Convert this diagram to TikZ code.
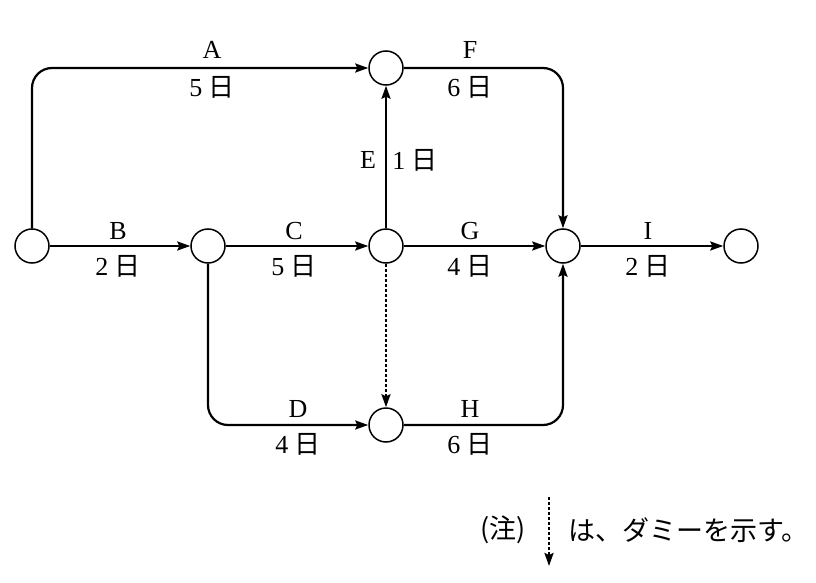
\documentclass[tikz,border=0pt]{standalone}
\usepackage{fontspec}
\setmainfont{Liberation Serif}
\newfontfamily\jp{Noto Sans CJK JP}
\usetikzlibrary{arrows.meta}
\begin{document}
\begin{tikzpicture}[x=1pt,y=-1pt,
  ev/.style={circle,draw,line width=1.5pt,minimum size=34pt,inner sep=0pt},
  act/.style={line width=2.2pt,-{Stealth[length=13pt,width=9pt,inset=2pt]},rounded corners=20pt},
  dummy/.style={act,dash pattern=on 3pt off 2pt},
  lbl/.style={font=\fontsize{26}{28}\selectfont,inner sep=0pt},
  jpl/.style={font=\fontsize{27}{29}\selectfont\jp,inner sep=0pt}]
\useasboundingbox (0,0) rectangle (816,583);
\node[ev] (n1) at (32,246) {};
\node[ev] (n2) at (208,246) {};
\node[ev] (n3) at (386,246) {};
\node[ev] (n4) at (386,68) {};
\node[ev] (n5) at (563,246) {};
\node[ev] (n6) at (741,246) {};
\node[ev] (n7) at (386,425) {};
% activities
\draw[act] (n1.north) |- (n4.west);
\draw[act] (n4.east) -| (n5.north);
\draw[act] (n2.south) |- (n7.west);
\draw[act] (n7.east) -| (n5.south);
\draw[act] (n1) -- (n2);
\draw[act] (n2) -- (n3);
\draw[act] (n3) -- (n4);
\draw[act] (n3) -- (n5);
\draw[act] (n5) -- (n6);
\draw[dummy] (n3) -- (n7);
% labels
\node[lbl] (la) at (212,50) {A};
\node[lbl] (la2) at (212,87) {5 {\jp 日}};
\node[lbl] (lf) at (470,50) {F};
\node[lbl] (lf2) at (470,87) {6 {\jp 日}};
\node[lbl] (lb) at (118,231) {B};
\node[lbl] (lb2) at (118,266) {2 {\jp 日}};
\node[lbl] (lc) at (294,231) {C};
\node[lbl] (lc2) at (294,266) {5 {\jp 日}};
\node[lbl] (lg) at (470,231) {G};
\node[lbl] (lg2) at (470,266) {4 {\jp 日}};
\node[lbl] (li) at (648,231) {I};
\node[lbl] (li2) at (648,266) {2 {\jp 日}};
\node[lbl] (le) at (368,160) {E};
\node[lbl] (le2) at (415,160) {1 {\jp 日}};
\node[lbl] (ld) at (298,409) {D};
\node[lbl] (ld2) at (298,444) {4 {\jp 日}};
\node[lbl] (lh) at (470,409) {H};
\node[lbl] (lh2) at (470,444) {6 {\jp 日}};
% legend
\node[jpl] (note) at (503,530) {(注)};
\coordinate (d1) at (549,497);
\coordinate (d2) at (549,566);
\draw[dummy] (d1) -- (d2);
\node[jpl,anchor=west] (lt) at (568,530) {は、ダミーを示す。};
\end{tikzpicture}
\end{document}
